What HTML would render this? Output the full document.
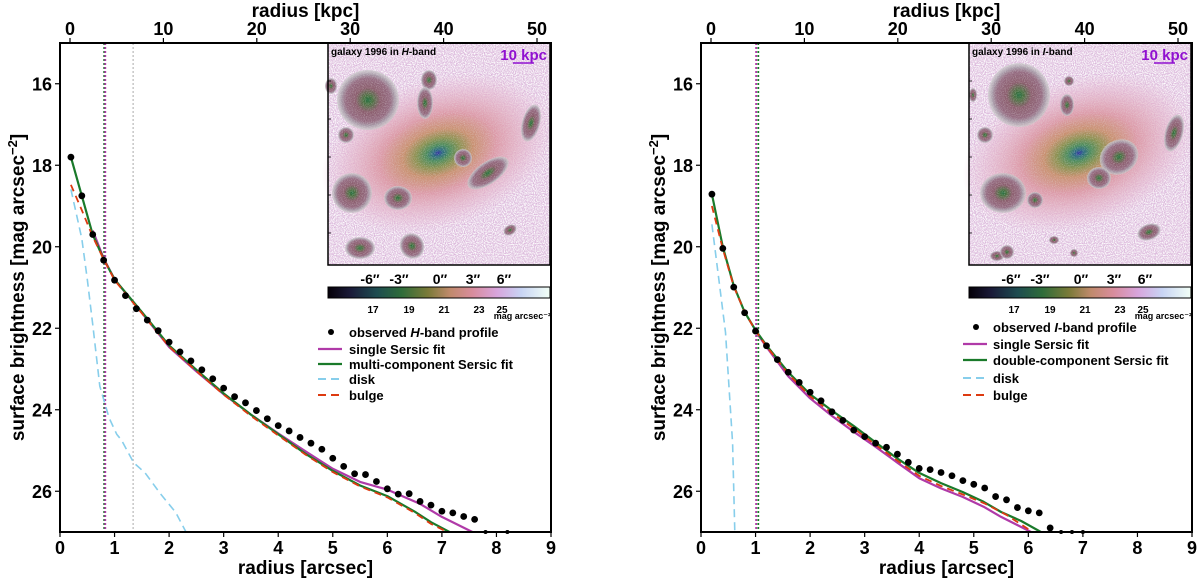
<!DOCTYPE html>
<html><head><meta charset="utf-8">
<style>
html,body{margin:0;padding:0;background:#fff;}
svg{display:block;font-family:"Liberation Sans","DejaVu Sans",sans-serif;font-weight:bold;}
</style></head>
<body>
<svg id="fig" width="1200" height="580" viewBox="0 0 1200 580">
<defs>
<linearGradient id="cmap" x1="0" x2="1" y1="0" y2="0">
<stop offset="0" stop-color="#050008"/><stop offset="0.1" stop-color="#1a1a38"/>
<stop offset="0.22" stop-color="#1e4c50"/><stop offset="0.33" stop-color="#2e6c3a"/>
<stop offset="0.45" stop-color="#7a7a38"/><stop offset="0.55" stop-color="#c08a6c"/>
<stop offset="0.65" stop-color="#d88c9c"/><stop offset="0.76" stop-color="#d8a4dc"/>
<stop offset="0.87" stop-color="#c8d4f4"/><stop offset="1" stop-color="#f2fff6"/>
</linearGradient>
<radialGradient id="core">
<stop offset="0" stop-color="#3030a0"/><stop offset="0.04" stop-color="#2a6a80"/>
<stop offset="0.1" stop-color="#4a8a5a"/><stop offset="0.19" stop-color="#8a9050"/>
<stop offset="0.3" stop-color="#c89070"/><stop offset="0.5" stop-color="#dc9aa8"/>
<stop offset="0.8" stop-color="#e4b4cc" stop-opacity="0.6"/>
<stop offset="1" stop-color="#e8c0d8" stop-opacity="0"/>
</radialGradient>
<radialGradient id="blob">
<stop offset="0" stop-color="#1e6a3a"/><stop offset="0.15" stop-color="#4a7040"/>
<stop offset="0.4" stop-color="#8a5c6c"/><stop offset="0.72" stop-color="#946a80"/>
<stop offset="0.86" stop-color="#a89aa8"/><stop offset="1" stop-color="#c8c8c8" stop-opacity="0.7"/>
</radialGradient>
<filter id="noise" x="0" y="0" width="100%" height="100%">
<feTurbulence type="fractalNoise" baseFrequency="0.9" numOctaves="1" seed="3"/>
<feColorMatrix type="matrix" values="0 0 0 0 1  0 0 0 0 1  0 0 0 0 1  0 0 0 -3 1.9"/>
</filter>
<filter id="noise2" x="0" y="0" width="100%" height="100%">
<feTurbulence type="fractalNoise" baseFrequency="1.1" numOctaves="1" seed="7"/>
<feColorMatrix type="matrix" values="0 0 0 0 0.85  0 0 0 0 0.85  0 0 0 0 0.85  0 0 0 -3 1.7"/>
</filter>
<clipPath id="clipL"><rect x="60" y="43" width="491" height="489"/></clipPath>
<clipPath id="clipR"><rect x="701" y="43" width="491" height="489"/></clipPath>
</defs>
</svg>
<script>
// ---------- data: left panel (H-band) ----------
const hObsR = [0.2,0.4,0.6,0.8,1.0,1.2,1.4,1.6,1.8,2.0,2.2,2.4,2.6,2.8,3.0,3.2,3.4,3.6,3.8,4.0,4.2,4.4,4.6,4.8,5.0,5.2,5.4,5.6,5.8,6.0,6.2,6.4,6.6,6.8,7.0,7.2,7.4,7.6];
const hObs = [17.8,18.75,19.7,20.33,20.82,21.2,21.52,21.8,22.06,22.34,22.58,22.8,23.02,23.24,23.47,23.68,23.83,24.02,24.22,24.39,24.52,24.68,24.82,24.97,25.19,25.39,25.57,25.59,25.76,25.94,26.07,26.06,26.25,26.34,26.49,26.53,26.62,26.69];
const hClippedR = [7.8,8.2];
const hMultiR = [0.2,0.4,0.6,0.8,1.0,1.5,2.0,2.5,3.0,3.5,4.0,4.5,5.0,5.5,6.0,6.5,6.8,7.14];
const hMulti = [17.8,18.75,19.7,20.3,20.8,21.6,22.42,23.02,23.6,24.12,24.6,25.08,25.5,25.86,26.12,26.5,26.76,27.0];
const hSingleR = [0.6,0.8,1.0,1.5,2.0,2.5,3.0,3.5,4.0,4.5,5.0,5.5,6.0,6.6,7.0,7.56];
const hSingle = [19.6,20.28,20.8,21.62,22.46,23.06,23.62,24.12,24.58,25.02,25.45,25.77,25.96,26.31,26.63,27.0];
const hBulgeR = [0.2,0.4,0.6,0.8,1.0,1.5,2.0,2.5,3.0,3.5,4.0,4.5,5.0,5.5,6.0,6.5,6.8,7.1];
const hBulge = [18.48,19.1,19.75,20.3,20.82,21.63,22.45,23.05,23.63,24.15,24.63,25.1,25.53,25.88,26.15,26.53,26.8,27.0];
const hDiskR = [0.2,0.3,0.4,0.5,0.6,0.73,0.79,0.9,1.04,1.13,1.35,1.56,1.84,2.12,2.31];
const hDisk = [18.59,19.2,19.8,20.8,21.9,23.42,23.7,24.2,24.6,24.75,25.3,25.55,26.06,26.52,27.0];
const hVlines = [0.81,0.83,1.34];

// ---------- data: right panel (I-band) ----------
const iObsR = [0.2,0.4,0.6,0.8,1.0,1.2,1.4,1.6,1.8,2.0,2.2,2.4,2.6,2.8,3.0,3.2,3.4,3.6,3.8,4.0,4.2,4.4,4.6,4.8,5.0,5.2,5.4,5.6,5.8,6.0,6.2,6.4];
const iObs = [18.71,20.04,20.99,21.62,22.07,22.43,22.77,23.08,23.33,23.57,23.78,24.05,24.26,24.5,24.66,24.82,24.92,25.09,25.29,25.44,25.47,25.54,25.62,25.74,25.83,25.92,26.13,26.21,26.4,26.48,26.53,26.9];
const iClippedR = [6.6,6.8,7.0];
const iDoubleR = [0.2,0.4,0.6,0.8,1.0,1.2,1.6,2.0,2.4,2.8,3.2,3.6,4.0,4.4,4.8,5.18,5.5,5.87,6.23];
const iDouble = [18.71,20.0,20.95,21.6,22.05,22.42,23.08,23.62,24.02,24.4,24.8,25.2,25.55,25.8,26.02,26.26,26.51,26.73,27.0];
const iSingleR = [1.0,1.2,1.6,2.0,2.4,2.8,3.2,3.6,4.0,4.4,4.8,5.18,5.5,6.05];
const iSingle = [22.07,22.46,23.18,23.72,24.15,24.54,24.91,25.3,25.68,25.93,26.14,26.38,26.63,27.0];
const iBulgeR = [0.2,0.4,0.6,0.8,1.0,1.2,1.6,2.0,2.4,2.8,3.2,3.6,4.0,4.4,4.8,5.2,5.6,6.0];
const iBulge = [19.0,20.05,20.97,21.6,22.06,22.44,23.12,23.67,24.08,24.46,24.86,25.25,25.62,25.87,26.08,26.3,26.58,26.93];
const iDiskR = [0.2,0.45,0.58,0.62];
const iDisk = [19.45,22.1,24.82,27.0];
const iVlines = [1.01,1.05];

// ---------- shared axes ----------
const xTicks = [0,1,2,3,4,5,6,7,8,9];
const yTicks = [16,18,20,22,24,26];
const kpcTicks = [0,10,20,30,40,50];
const cbTicks = ['17','19','21','23','25'];
const insetTicks = ['-6″','-3″','0″','3″','6″'];

const NS = 'http://www.w3.org/2000/svg';
const svg = document.getElementById('fig');
function mk(tag, attrs, parent, text){
  const e = document.createElementNS(NS, tag);
  for (const k in attrs) e.setAttribute(k, attrs[k]);
  if (text !== undefined) e.textContent = text;
  (parent||svg).appendChild(e);
  return e;
}
const Y0 = 43, Y1 = 532, W = 491;
function yS(v){ return Y0 + (v-15)/12*(Y1-Y0); }

function panel(px, side, d){
  const xS = r => px + r/9*W;
  const kS = k => px + 10 + k*9.34;
  const g = mk('g', {});
  
  

  const ins = mk('g', {}, g);
  
  
  const ix = px+268, iy = 43, iw = 222, ih = 222;
  mk('rect', {x:ix,y:iy,width:iw,height:ih,fill:'#dcb8dc'}, ins);
  mk('rect', {x:ix,y:iy,width:iw,height:ih,filter:'url(#noise)'}, ins);
  const cx = ix+110, cy = 153;
  mk('ellipse', {cx:cx,cy:cy,rx:120,ry:75,fill:'url(#core)',transform:`rotate(-18 ${cx} ${cy})`}, ins);
  const blobs = side==='left'
    ? [[40,57,31,30,0],[101,37,8,10,0],[97,60,8,16,0],[18,92,8,8,0],[24,150,20,20,0],[70,155,14,12,0],[160,130,24,11,-35],[135,115,9,9,0],[203,80,9,19,15],[182,187,7,5,-30],[32,205,15,11,0],[84,203,12,13,-30],[3,43,6,8,0]]
    : [[50,52,31,32,0],[100,38,5,5,0],[98,62,7,11,0],[16,92,8,8,0],[34,150,23,20,0],[66,157,8,8,0],[150,114,20,17,-30],[130,135,12,11,0],[205,90,9,19,15],[180,189,12,8,-20],[28,213,7,5,0],[38,209,7,7,0],[85,197,5,4,0],[105,210,4,4,0],[4,52,4,7,0]];
  blobs.forEach(b=>{
    const bx=ix+b[0], by=iy+b[1];
    mk('ellipse',{cx:bx,cy:by,rx:b[2],ry:b[3],fill:'url(#blob)',transform:`rotate(${b[4]} ${bx} ${by})`}, ins);
  });
  mk('rect', {x:ix,y:iy,width:iw,height:ih,filter:'url(#noise2)',opacity:0.35}, ins);
  mk('rect', {x:ix,y:iy,width:iw,height:ih,fill:'none',stroke:'#000','stroke-width':1.5}, ins);
  const tt = mk('text', {x:ix+3,y:iy+12,'font-size':10,fill:'#000'}, ins, 'galaxy 1996 in ');
  mk('tspan', {'font-style':'italic'}, tt, side==='left'?'H':'I');
  mk('tspan', {}, tt, '-band');
  mk('text', {x:ix+iw-3,y:iy+17,'font-size':15,fill:'#9010d0','text-anchor':'end'}, ins, '10 kpc');
  mk('line', {x1:ix+185,x2:ix+206,y1:iy+20,y2:iy+20,stroke:'#9010d0','stroke-width':1.5}, ins);
  [38,76,114,152,190].forEach(t=>mk('line',{x1:ix,x2:ix+3,y1:iy+t,y2:iy+t,stroke:'#000','stroke-width':0.8},ins));
  const itx = [42,71,112,145,176];
  insetTicks.forEach((t,i)=>{
    const tl = mk('text',{x:ix+itx[i],y:iy+ih+19,'font-size':14,'text-anchor':'middle'}, ins, t);
    
    
  });
  const cb = mk('rect', {x:ix,y:287,width:iw,height:11,fill:'url(#cmap)',stroke:'#000','stroke-width':1}, g);
  
  
  const cbx = [45,81,116,151,174];
  cbTicks.forEach((t,i)=>mk('text',{x:ix+cbx[i],y:313,'font-size':10,'text-anchor':'middle'}, g, t));
  mk('text',{x:ix+iw+1,y:319,'font-size':9,'text-anchor':'end'}, g, 'mag arcsec⁻²');

  const dl = mk('g', {'clip-path': side==='left'?'url(#clipL)':'url(#clipR)'}, g);
  d.vlines.forEach((v,i)=>{
    const col = d.vcols[i];
    const l = mk('line',{x1:xS(v),x2:xS(v),y1:Y0,y2:Y1,stroke:col,'stroke-width':col==='#aaa'?1:1.8,'stroke-dasharray':'2,2'}, dl);
    
    
  });
  function line(rs, vs, col, dash, name, w){
    const p = rs.map((r,i)=>xS(r).toFixed(1)+','+yS(vs[i]).toFixed(1)).join(' ');
    const e = mk('polyline',{points:p,fill:'none',stroke:col,'stroke-width':w||2,'stroke-dasharray':dash||'none','stroke-linejoin':'round'}, dl);
    
    
  }
  line(d.diskR, d.disk, '#87ceeb', '8,5', 'disk-line', 1.6);
  line(d.singleR, d.single, '#b03aa8', null, 'single-sersic-line', 2.2);
  line(d.multiR, d.multi, '#1a7a2a', null, 'multi-sersic-line', 2.2);
  line(d.bulgeR, d.bulge, '#dd3a10', '7,5', 'bulge-line', 1.8);
  d.obsR.forEach((r,i)=>{
    const c = mk('circle',{cx:xS(r),cy:yS(d.obs[i]),r:3.4,fill:'#000'}, dl);
    
    
  });
  d.clipR.forEach(r=>{
    const c = mk('circle',{cx:xS(r),cy:Y1,r:2,fill:'#000'}, g);
    
    
  });

  mk('rect',{x:px,y:Y0,width:W,height:Y1-Y0,fill:'none',stroke:'#000','stroke-width':2}, g);
  xTicks.forEach(t=>{
    mk('line',{x1:xS(t),x2:xS(t),y1:Y1,y2:Y1+5,stroke:'#000','stroke-width':1.2}, g);
    const tl = mk('text',{x:xS(t),y:Y1+22,'font-size':18,'text-anchor':'middle'}, g, String(t));
    
    
  });
  yTicks.forEach(t=>{
    mk('line',{x1:px-5,x2:px,y1:yS(t),y2:yS(t),stroke:'#000','stroke-width':1.2}, g);
    const tl = mk('text',{x:px-8,y:yS(t)+6.5,'font-size':18,'text-anchor':'end'}, g, String(t));
    
    
  });
  kpcTicks.forEach(t=>{
    mk('line',{x1:kS(t),x2:kS(t),y1:Y0-5,y2:Y0,stroke:'#000','stroke-width':1.2}, g);
    const tl = mk('text',{x:kS(t),y:Y0-8,'font-size':18,'text-anchor':'middle'}, g, String(t));
    
    
  });
  const xt = mk('text',{x:px+W/2,y:574,'font-size':19,'text-anchor':'middle'}, g, 'radius [arcsec]');
  
  
  const kt = mk('text',{x:px+W/2,y:17,'font-size':19,'text-anchor':'middle'}, g, 'radius [kpc]');
  
  
  const yt = mk('text',{x:0,y:0,'font-size':19,'text-anchor':'middle',transform:`translate(${px-36},${(Y0+Y1)/2}) rotate(-90)`}, g);
  
  
  yt.appendChild(document.createTextNode('surface brightness [mag arcsec'));
  mk('tspan',{'font-size':13,dy:-7}, yt, '−2');
  mk('tspan',{dy:7}, yt, ']');

  const lg = mk('g', {}, g);
  
  
  const lx = px + (side==='left'?258:262), tx = px + (side==='left'?289:292);
  const ly = side==='left' ? [337,354,369,384,400] : [332,349,365,383,400];
  mk('circle',{cx:lx+13,cy:ly[0]-5,r:3,fill:'#000'}, lg);
  mk('line',{x1:lx,x2:lx+24,y1:ly[1]-5,y2:ly[1]-5,stroke:'#b03aa8','stroke-width':2.2}, lg);
  mk('line',{x1:lx,x2:lx+24,y1:ly[2]-5,y2:ly[2]-5,stroke:'#1a7a2a','stroke-width':2.2}, lg);
  mk('line',{x1:lx,x2:lx+24,y1:ly[3]-5,y2:ly[3]-5,stroke:'#87ceeb','stroke-width':2,'stroke-dasharray':'8,5'}, lg);
  mk('line',{x1:lx,x2:lx+24,y1:ly[4]-5,y2:ly[4]-5,stroke:'#dd3a10','stroke-width':2,'stroke-dasharray':'8,5'}, lg);
  d.legend.forEach((t,i)=>{
    const e = mk('text',{x:tx,y:ly[i],'font-size':13}, lg);
    
    
    if (i===0){
      e.appendChild(document.createTextNode('observed '));
      mk('tspan',{'font-style':'italic'}, e, t);
      e.appendChild(document.createTextNode('-band profile'));
    } else e.textContent = t;
  });
}

panel(60, 'left', {obsR:hObsR, obs:hObs, clipR:hClippedR, multiR:hMultiR, multi:hMulti, singleR:hSingleR, single:hSingle,
  bulgeR:hBulgeR, bulge:hBulge, diskR:hDiskR, disk:hDisk, vlines:hVlines, vcols:['#1a7a2a','#b03aa8','#aaa'],
  legend:['H','single Sersic fit','multi-component Sersic fit','disk','bulge']});
panel(701, 'right', {obsR:iObsR, obs:iObs, clipR:iClippedR, multiR:iDoubleR, multi:iDouble, singleR:iSingleR, single:iSingle,
  bulgeR:iBulgeR, bulge:iBulge, diskR:iDiskR, disk:iDisk, vlines:iVlines, vcols:['#b03aa8','#1a7a2a'],
  legend:['I','single Sersic fit','double-component Sersic fit','disk','bulge']});
</script>
</body></html>
